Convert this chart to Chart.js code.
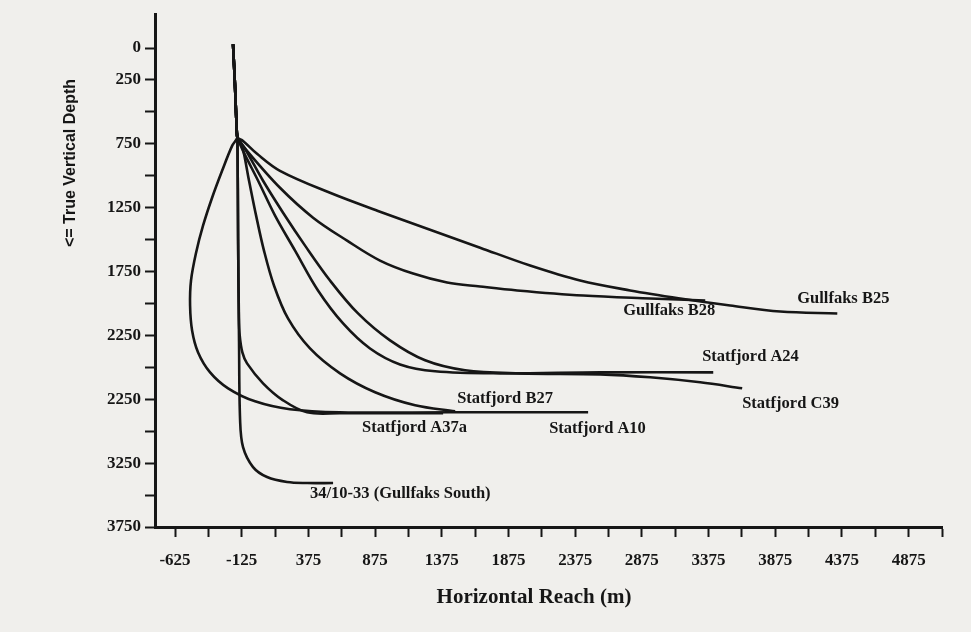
<!DOCTYPE html>
<html lang="en">
<head>
<meta charset="UTF-8">
<title>Well paths - true vertical depth vs horizontal reach</title>
<script src="https://cdn.jsdelivr.net/npm/chart.js"></script>
<style>
  html, body { margin: 0; padding: 0; background: #f0efec; }
  #wrap { width: 971px; height: 632px; }
</style>
</head>
<body>
<div id="wrap"><canvas id="wells" width="971" height="632"></canvas></div>
<script>
// ticks (every 250 m), labels as printed on the original (incl. its "2250" twice)
const yTickValues = [0, 250, 500, 750, 1000, 1250, 1500, 1750, 2000, 2250, 2500, 2750, 3000, 3250, 3500, 3750];
const yTickLabels = ['0', '250', '', '750', '', '1250', '', '1750', '', '2250', '', '2250', '', '3250', '', '3750'];
const xTickValues = [-625, -375, -125, 125, 375, 625, 875, 1125, 1375, 1625, 1875, 2125, 2375, 2625, 2875, 3125, 3375, 3625, 3875, 4125, 4375, 4625, 4875, 5125];
const xTickLabels = ['-625', '', '-125', '', '375', '', '875', '', '1375', '', '1875', '', '2375', '', '2875', '', '3375', '', '3875', '', '4375', '', '4875', ''];

// shared vertical top hole, [reach, tvd]
const topHole = [[-190, -30], [-175, 300], [-162, 650], [-157, 700]];

const gullfaksB25 = [[-115, 727], [-10, 828], [162, 961], [537, 1133], [912, 1281], [1287, 1422], [1662, 1563], [2037, 1703], [2412, 1820], [2787, 1898], [3162, 1961], [3537, 2016], [3912, 2063], [4340, 2078]];
const gullfaksB28 = [[-85, 805], [162, 1094], [410, 1328], [665, 1508], [912, 1664], [1160, 1766], [1415, 1836], [1662, 1867], [1940, 1898], [2435, 1938], [2938, 1961], [3350, 1977]];
const statfjordA24 = [[-115, 805], [-2, 1039], [125, 1312], [275, 1586], [447, 1898], [635, 2156], [837, 2352], [1062, 2477], [1325, 2531], [1812, 2547], [2562, 2539], [3410, 2539]];
const statfjordC39 = [[-100, 789], [35, 1039], [185, 1289], [350, 1547], [537, 1820], [747, 2078], [987, 2289], [1250, 2445], [1550, 2523], [1962, 2547], [2562, 2555], [2937, 2578], [3312, 2617], [3627, 2664]];
const statfjordB27 = [[-122, 766], [-70, 1039], [-17, 1312], [42, 1586], [117, 1859], [222, 2117], [387, 2352], [612, 2547], [875, 2695], [1175, 2797], [1475, 2844]];
const statfjordA37a = [[-152, 1500], [-146, 2100], [-140, 2250], [-120, 2383], [-85, 2469], [35, 2625], [185, 2758], [365, 2852], [612, 2859], [1385, 2859]];
const statfjordA10 = [[-197, 766], [-272, 961], [-347, 1172], [-415, 1391], [-467, 1602], [-505, 1820], [-512, 2016], [-497, 2211], [-452, 2383], [-362, 2539], [-227, 2664], [-25, 2766], [237, 2828], [612, 2852], [1437, 2852], [2472, 2852]];
const gullfaksSouth = [[-152, 1500], [-145, 2300], [-137, 2914], [-115, 3125], [-40, 3281], [65, 3359], [215, 3398], [365, 3406], [560, 3406]];

const wellNames = ['Gullfaks B25', 'Gullfaks B28', 'Statfjord A24', 'Statfjord C39', 'Statfjord B27', 'Statfjord A37a', 'Statfjord A10', '34/10-33 (Gullfaks South)'];
const wellPaths = [gullfaksB25, gullfaksB28, statfjordA24, statfjordC39, statfjordB27, statfjordA37a, statfjordA10, gullfaksSouth];
// where each name is written (left end of text), in data units
const labelAt = [[4040, 1961], [2735, 2055], [3327, 2414], [3627, 2781], [1490, 2742], [777, 2969], [2180, 2977], [387, 3492]];

const INK = '#161616';
const labelFont = 'bold 16.5px "Liberation Serif", serif';

// titles + well names drawn on top
const annotations = {
  id: 'annotations',
  afterDraw(chart) {
    const ctx = chart.ctx;
    const xs = chart.scales.x, ys = chart.scales.y;
    ctx.save();
    ctx.fillStyle = INK;
    ctx.font = labelFont;
    ctx.textAlign = 'left';
    ctx.textBaseline = 'middle';
    wellNames.forEach((name, i) => {
      ctx.fillText(name, xs.getPixelForValue(labelAt[i][0]), ys.getPixelForValue(labelAt[i][1]));
    });

    // axis titles
    ctx.textAlign = 'center';
    ctx.font = 'bold 21px "Liberation Serif", serif';
    ctx.fillText('Horizontal Reach (m)', 534, 598);

    ctx.translate(71, 163);
    ctx.rotate(-Math.PI / 2);
    ctx.font = 'bold 16px "Liberation Sans Narrow", "Liberation Sans", sans-serif';
    ctx.fillText('<= True Vertical Depth', 0, 0);
    ctx.restore();
  }
};

new Chart(document.getElementById('wells'), {
  type: 'scatter',
  data: {
    datasets: wellPaths.map((path, i) => ({
      label: wellNames[i],
      data: topHole.concat(path).map(p => ({ x: p[0], y: p[1] })),
      showLine: true,
      borderColor: INK,
      borderWidth: 2.6,
      pointRadius: 0,
      tension: 0.35,
      fill: false
    }))
  },
  options: {
    responsive: false,
    animation: false,
    layout: { padding: { left: 0, top: 13, right: 29, bottom: 0 } },
    plugins: {
      legend: { display: false },
      tooltip: { enabled: false }
    },
    scales: {
      x: {
        type: 'linear',
        min: -775,
        max: 5125,
        afterBuildTicks: axis => { axis.ticks = xTickValues.map(v => ({ value: v })); },
        afterFit: axis => { axis.height = 105; },
        ticks: {
          autoSkip: false,
          maxRotation: 0,
          padding: 13,
          color: INK,
          font: { family: '"Liberation Serif", serif', size: 17, weight: 'bold' },
          callback: (value) => xTickLabels[xTickValues.indexOf(value)]
        },
        grid: { drawOnChartArea: false, tickLength: 10, tickWidth: 2, tickColor: INK },
        border: { display: true, color: INK, width: 3 }
      },
      y: {
        type: 'linear',
        reverse: true,
        min: -265,
        max: 3750,
        afterBuildTicks: axis => { axis.ticks = yTickValues.map(v => ({ value: v })); },
        afterFit: axis => { axis.width = 155; },
        ticks: {
          autoSkip: false,
          padding: 4,
          color: INK,
          font: { family: '"Liberation Serif", serif', size: 17, weight: 'bold' },
          callback: (value) => yTickLabels[yTickValues.indexOf(value)]
        },
        grid: { drawOnChartArea: false, tickLength: 10, tickWidth: 2, tickColor: INK },
        border: { display: true, color: INK, width: 3 }
      }
    }
  },
  plugins: [annotations]
});
</script>
</body>
</html>
